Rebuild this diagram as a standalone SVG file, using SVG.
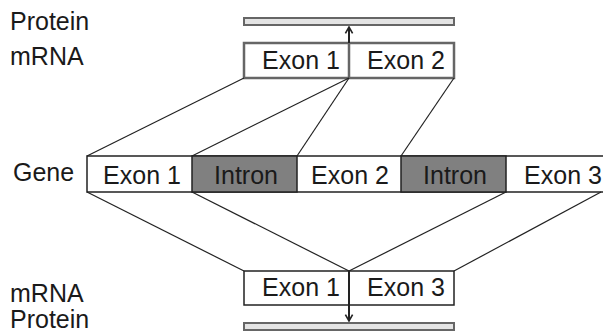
<svg xmlns="http://www.w3.org/2000/svg" width="603" height="334" viewBox="0 0 603 334">
<defs>
<style>
.lbl{font-family:"Liberation Sans",Arial,sans-serif;font-size:25px;fill:#1a1a1a}
.ex{font-family:"Liberation Sans",Arial,sans-serif;font-size:25px;fill:#1a1a1a;text-anchor:middle}
.bar{fill:#e4e4e4;stroke:#666;stroke-width:2}
.mtop{fill:#fff;stroke:#666;stroke-width:2.5}
.box{fill:#fff;stroke:#222;stroke-width:1.5}
.intron{fill:#808080;stroke:#222;stroke-width:1.5}
.con{stroke:#222;stroke-width:1.2;fill:none}
.arr{stroke:#222;stroke-width:2;fill:none}
</style>
<marker id="ah" viewBox="0 0 10 10" refX="9" refY="5" markerWidth="8" markerHeight="10" orient="auto" markerUnits="userSpaceOnUse">
<path d="M1,0.5 L9,5 L1,9.5" fill="none" stroke="#222" stroke-width="2"/>
</marker>
</defs>
<g id="labels">
<text class="lbl" x="10" y="30">Protein</text>
<text class="lbl" x="10" y="65">mRNA</text>
<text class="lbl" x="13" y="181">Gene</text>
<text class="lbl" x="10" y="302">mRNA</text>
<text class="lbl" x="10" y="328">Protein</text>
</g>
<g id="protein-top"><rect class="bar" x="244" y="18" width="210" height="7"/></g>
<g id="mrna-top">
<rect class="mtop" x="244" y="43" width="210" height="35"/>
<line x1="349" y1="43" x2="349" y2="78" stroke="#666" stroke-width="2.5"/>
<text class="ex" x="301" y="69">Exon 1</text>
<text class="ex" x="406" y="69">Exon 2</text>
</g>
<g id="gene">
<path class="box" d="M603,156 H87 V192 H603"/>
<rect class="intron" x="192" y="156" width="105" height="36"/>
<rect class="intron" x="401" y="156" width="105" height="36"/>
<text class="ex" x="142" y="184">Exon 1</text>
<text class="ex" x="246" y="184">Intron</text>
<text class="ex" x="350" y="184">Exon 2</text>
<text class="ex" x="455" y="184">Intron</text>
<text class="ex" x="563" y="184">Exon 3</text>
</g>
<g id="mrna-bottom">
<rect class="box" x="244" y="271" width="210" height="34"/>
<text class="ex" x="301" y="296">Exon 1</text>
<text class="ex" x="406" y="296">Exon 3</text>
</g>
<g id="protein-bottom"><rect class="bar" x="244" y="323" width="210" height="7"/></g>
<g id="connectors">
<line class="con" x1="244" y1="78" x2="87" y2="156"/>
<line class="con" x1="349" y1="78" x2="192" y2="156"/>
<line class="con" x1="349" y1="78" x2="297" y2="156"/>
<line class="con" x1="454" y1="78" x2="401" y2="156"/>
<line class="con" x1="87" y1="192" x2="244" y2="271"/>
<line class="con" x1="192" y1="192" x2="349" y2="271"/>
<line class="con" x1="506" y1="192" x2="349" y2="271"/>
<line class="con" x1="601" y1="192" x2="454" y2="271"/>
<line class="arr" x1="349" y1="43" x2="349" y2="27" marker-end="url(#ah)"/>
<line class="arr" x1="349" y1="271" x2="349" y2="321" marker-end="url(#ah)"/>
</g>
</svg>
